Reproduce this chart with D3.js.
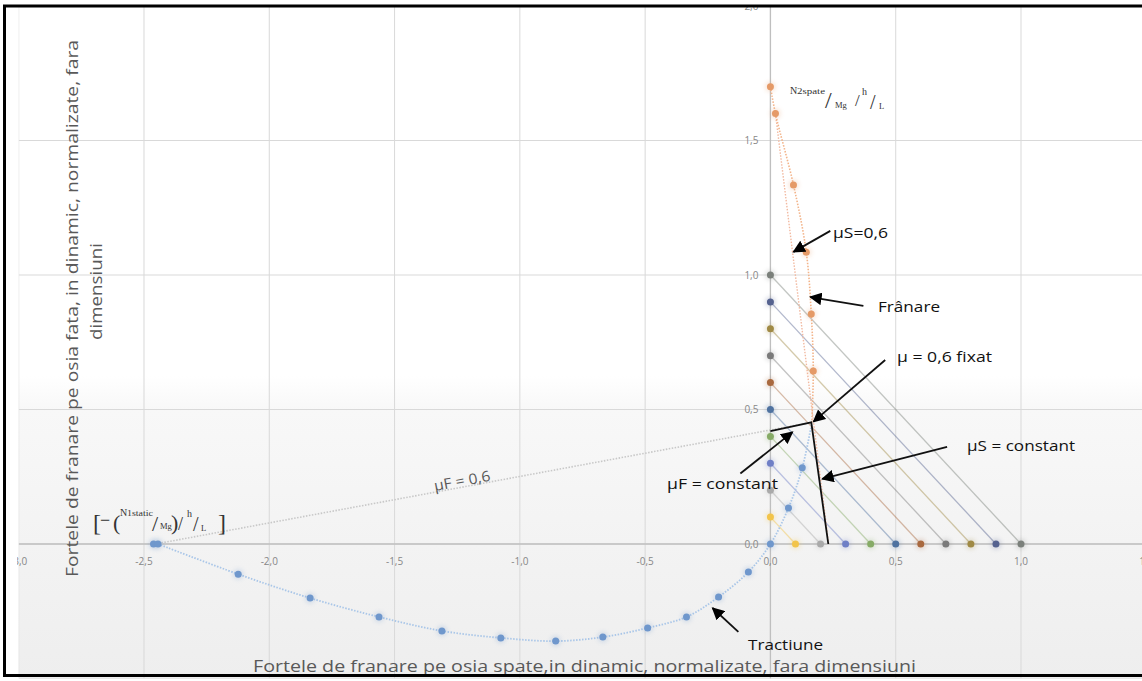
<!DOCTYPE html>
<html><head><meta charset="utf-8">
<script src="https://cdn.jsdelivr.net/npm/d3@7"></script>
<style>body{margin:0;background:#fff;}svg{display:block;}</style>
</head><body>
<svg id="c" width="1142" height="681"></svg>
<script>
// ---- data ----
const xTicks = [-3, -2.5, -2, -1.5, -1, -0.5, 0, 0.5, 1, 1.5];
const yTicks = [0, 0.5, 1, 1.5, 2];
const tickFmt = v => v.toFixed(1).replace('.', ',');

const tractionX = [-2.462, -2.444, -2.124, -1.837, -1.562, -1.311, -1.076, -0.857, -0.669, -0.490, -0.335, -0.207, -0.088, 0, 0.072, 0.127, 0.165];
const tractionY = [0, 0, -0.112, -0.201, -0.271, -0.323, -0.349, -0.361, -0.346, -0.312, -0.271, -0.197, -0.104, 0, 0.134, 0.283, 0.45];

const franareX = [0, 0.02, 0.092, 0.143, 0.163, 0.171, 0.165];
const franareY = [1.7, 1.6, 1.335, 1.085, 0.855, 0.643, 0.45];

const muFLineX = [-2.454, 0.163];
const muFLineY = [0, 0.452];
const muSLineX = [0.02, 0.232];
const muSLineY = [1.6, 0];

const diagK = [0.1, 0.2, 0.3, 0.4, 0.5, 0.6, 0.7, 0.8, 0.9, 1.0];
const diagColors = ["#f2c44a", "#aaaaaa", "#6f7fc6", "#86ab66", "#4f72a0", "#a9693f", "#7a7a7a", "#a08a45", "#55628f", "#7b807b"];

// fixed mu = 0.6 annotation segments (data coords)
const fixedX = [0, 0.163, 0.231];
const fixedY = [0.42, 0.452, 0];

// arrows: [x1,y1,x2,y2] in data coords
const arrows = [
  [0.239, 1.164, 0.092, 1.086],
  [0.371, 0.885, 0.159, 0.918],
  [0.458, 0.684, 0.172, 0.455],
  [-0.12, 0.262, 0.088, 0.416],
  [0.705, 0.361, 0.207, 0.242],
  [-0.128, -0.327, -0.231, -0.238]
];

// ---- chart ----
const svg = d3.select('#c');
const x = d3.scaleLinear().domain([-3, 1.5]).range([18.7, 1146.3]);
const y = d3.scaleLinear().domain([-0.5, 2]).range([678.5, 6]);

const defs = svg.append('defs');
const grad = defs.append('linearGradient').attr('id', 'bg').attr('x1', 0).attr('y1', 0).attr('x2', 0).attr('y2', 1);
grad.append('stop').attr('offset', '0').attr('stop-color', '#ffffff');
grad.append('stop').attr('offset', '0.55').attr('stop-color', '#ffffff');
grad.append('stop').attr('offset', '0.6').attr('stop-color', '#f8f8f8');
grad.append('stop').attr('offset', '1').attr('stop-color', '#eeeeee');
defs.append('clipPath').attr('id', 'plot').append('rect')
  .attr('x', x(-3)).attr('y', y(2)).attr('width', x(1.5) - x(-3)).attr('height', y(-0.5) - y(2));
defs.append('clipPath').attr('id', 'vis').append('rect')
  .attr('x', 17).attr('y', 6).attr('width', 1200).attr('height', 670);
defs.append('marker').attr('id', 'ah').attr('viewBox', '0 0 10 10').attr('refX', 9).attr('refY', 5)
  .attr('markerWidth', 7).attr('markerHeight', 7).attr('orient', 'auto')
  .append('path').attr('d', 'M0,0 L10,5 L0,10 Z').attr('fill', '#000');
const blur = defs.append('filter').attr('id', 'glow').attr('x', '-100%').attr('y', '-100%').attr('width', '300%').attr('height', '300%');
blur.append('feGaussianBlur').attr('stdDeviation', 2.2);

svg.append('rect').attr('x', x(-3)).attr('y', y(2)).attr('width', x(1.5) - x(-3)).attr('height', y(-0.5) - y(2)).attr('fill', 'url(#bg)');

const g = svg.append('g').attr('clip-path', 'url(#plot)');
// gridlines
g.selectAll('.vg').data(xTicks).enter().append('line')
  .attr('x1', d => x(d)).attr('x2', d => x(d)).attr('y1', y(2)).attr('y2', y(-0.5))
  .attr('stroke', '#d9d9d9').attr('stroke-width', 1);
g.selectAll('.hg').data(yTicks.concat([-0.5])).enter().append('line')
  .attr('y1', d => y(d)).attr('y2', d => y(d)).attr('x1', x(-3)).attr('x2', x(1.5))
  .attr('stroke', '#d9d9d9').attr('stroke-width', 1);
// axes
g.append('line').attr('x1', x(-3)).attr('x2', x(1.5)).attr('y1', y(0)).attr('y2', y(0)).attr('stroke', '#bfbfbf').attr('stroke-width', 1.3);
g.append('line').attr('x1', x(0)).attr('x2', x(0)).attr('y1', y(2)).attr('y2', y(-0.5)).attr('stroke', '#bfbfbf').attr('stroke-width', 1.3);

// tick labels
const tl = svg.append('g').attr('clip-path', 'url(#vis)').attr('font-family', 'Open Sans, sans-serif').attr('font-size', 10).attr('fill', '#878787');
tl.selectAll('.xt').data(xTicks).enter().append('text')
  .attr('x', d => x(d)).attr('y', y(0) + 21).attr('text-anchor', 'middle').text(d => tickFmt(d));
tl.selectAll('.yt').data(yTicks).enter().append('text')
  .attr('x', x(0) - 12).attr('y', d => y(d) + 3.5).attr('text-anchor', 'end').text(d => tickFmt(d));

const line = d3.line().x(d => x(d[0])).y(d => y(d[1]));
const zip = (a, b) => a.map((v, i) => [v, b[i]]);

// diagonal constant-deceleration lines
diagK.forEach((k, i) => {
  g.append('path').attr('d', line([[0, k], [k, 0]])).attr('fill', 'none')
    .attr('stroke', diagColors[i]).attr('stroke-opacity', 0.45).attr('stroke-width', 1.3);
});

// mu lines
g.append('path').attr('d', line(zip(muFLineX, muFLineY))).attr('fill', 'none')
  .attr('stroke', '#c8c8c8').attr('stroke-width', 1.6).attr('stroke-dasharray', '1.5,1.5');
g.append('path').attr('d', line(zip(muSLineX, muSLineY))).attr('fill', 'none')
  .attr('stroke', '#f2b9a0').attr('stroke-width', 1.4).attr('stroke-dasharray', '1.5,1.5');

// traction & braking curves
const tr = zip(tractionX, tractionY);
const fr = zip(franareX, franareY);
const cl = d3.line().curve(d3.curveCatmullRom).x(d => x(d[0])).y(d => y(d[1]));
g.append('path').attr('d', cl(tr.slice(1)))
  .attr('fill', 'none').attr('stroke', '#a9c6e8').attr('stroke-width', 1.8).attr('stroke-dasharray', '1.5,1.5');
g.append('path').attr('d', cl(fr))
  .attr('fill', 'none').attr('stroke', '#f3b48a').attr('stroke-width', 1.6).attr('stroke-dasharray', '1.5,1.5');

// markers with glow
function dots(data, color) {
  g.selectAll(null).data(data).enter().append('circle')
    .attr('cx', d => x(d[0])).attr('cy', d => y(d[1])).attr('r', 5.5)
    .attr('fill', color).attr('opacity', 0.22).attr('filter', 'url(#glow)');
  g.selectAll(null).data(data).enter().append('circle')
    .attr('cx', d => x(d[0])).attr('cy', d => y(d[1])).attr('r', 3.5)
    .attr('fill', color);
}
diagK.forEach((k, i) => dots([[0, k], [k, 0]], diagColors[i]));
dots(tr.slice(0, tr.length - 1), '#6f97cc');
dots(fr.slice(0, fr.length - 1), '#e59a67');

// black annotation lines
const ann = svg.append('g');
ann.append('path').attr('d', line(zip(fixedX, fixedY))).attr('fill', 'none').attr('stroke', '#111').attr('stroke-width', 1.8);
ann.selectAll(null).data(arrows).enter().append('line')
  .attr('x1', d => x(d[0])).attr('y1', d => y(d[1])).attr('x2', d => x(d[2])).attr('y2', d => y(d[3]))
  .attr('stroke', '#111').attr('stroke-width', 1.8).attr('marker-end', 'url(#ah)');

// annotation texts [text, x, baseline, width]
const at = svg.append('g').attr('font-family', 'Open Sans, sans-serif').attr('font-size', 15).attr('fill', '#111');
[["μS=0,6", 833, 238, 55], ["Frânare", 878, 312, 62], ["μ = 0,6 fixat", 897, 362, 95], ["μS = constant", 967, 451, 108], ["μF = constant", 667, 489, 111], ["Tractiune", 748, 650, 75]]
  .forEach(t => at.append('text').attr('x', t[1]).attr('y', t[2]).attr('textLength', t[3]).attr('lengthAdjust', 'spacingAndGlyphs').text(t[0]));
svg.append('text').attr('transform', 'translate(435,491) rotate(-10.5)')
  .attr('font-family', 'Open Sans, sans-serif').attr('font-size', 14.5).attr('fill', '#595959')
  .attr('textLength', 57).attr('lengthAdjust', 'spacingAndGlyphs').text('μF = 0,6');

// formula labels
const ser = svg.append('g').attr('font-family', 'Liberation Serif, serif').attr('fill', '#333');
function st(txt, px, py, fs, w) {
  const t = ser.append('text').attr('x', px).attr('y', py).attr('font-size', fs).text(txt);
  if (w) t.attr('textLength', w).attr('lengthAdjust', 'spacingAndGlyphs');
}
st('N', 790, 94, 10); st('2spate', 797, 94, 8, 28); st('/', 825, 108, 24); st('Mg', 835, 108, 8.5);
st('/', 855, 106, 17); st('h', 862, 95, 10); st('/', 870, 109, 20); st('L', 879, 109, 8.5);
st('[', 93, 531, 24); st('−', 100, 526, 18); st('(', 113, 530, 22); st('N', 120, 516, 10); st('1static', 127, 516, 8, 26);
st('/', 152, 531, 22); st('Mg', 160, 529, 8.5); st(')', 171, 530, 22); st('/', 178, 530, 18);
st('h', 187, 517, 10); st('/', 193, 531, 20); st('L', 201, 531, 8.5); st(']', 218, 531, 24);

// axis titles
const tt = svg.append('g').attr('font-family', 'Open Sans, sans-serif').attr('font-size', 15.5).attr('fill', '#595959');
tt.append('text').attr('x', 253).attr('y', 672).attr('textLength', 663).attr('lengthAdjust', 'spacingAndGlyphs')
  .text('Fortele de franare pe osia spate,in dinamic, normalizate, fara dimensiuni');
tt.append('text').attr('transform', 'translate(78,577) rotate(-90)').attr('textLength', 537).attr('lengthAdjust', 'spacingAndGlyphs')
  .text('Fortele de franare pe osia fata, in dinamic, normalizate, fara');
tt.append('text').attr('transform', 'translate(102,340) rotate(-90)').attr('textLength', 97).attr('lengthAdjust', 'spacingAndGlyphs')
  .text('dimensiuni');

// outer border
svg.append('rect').attr('x', 4.5).attr('y', 6).attr('width', 1200).attr('height', 669.5)
  .attr('fill', 'none').attr('stroke', '#000').attr('stroke-width', 3);
</script>
</body></html>
